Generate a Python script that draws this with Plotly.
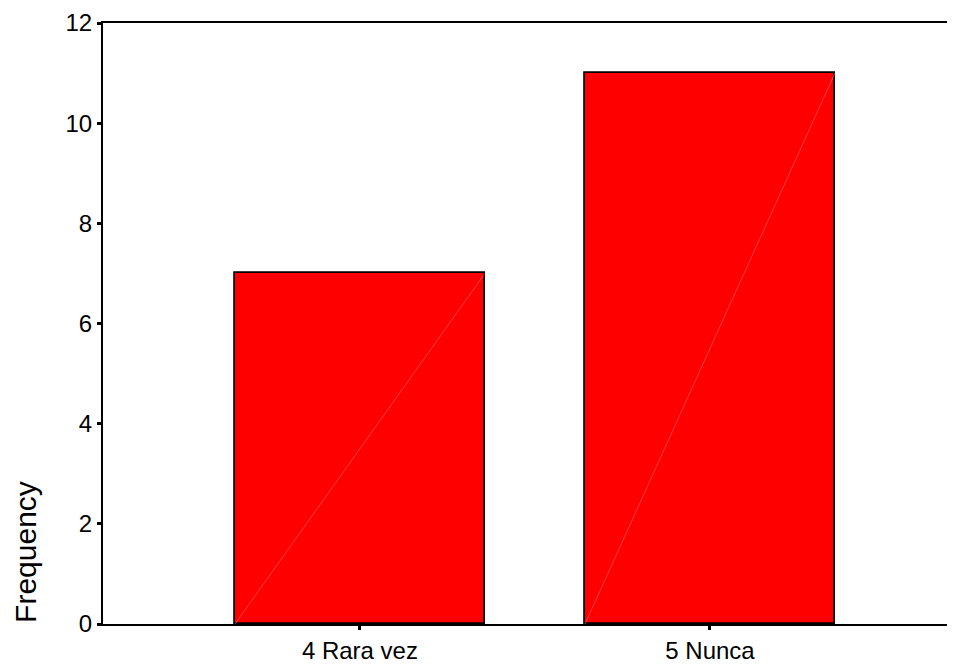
import plotly.graph_objects as go

categories = ["4 Rara vez", "5 Nunca"]
frequencies = [7, 11]
y_ticks = [0, 2, 4, 6, 8, 10, 12]

bar_width = 0.714
positions = list(range(len(categories)))

fig = go.Figure()
fig.add_trace(go.Bar(
    x=positions, y=frequencies, width=bar_width,
    marker=dict(color="#ff0000", line=dict(color="#000000", width=1.8)),
    showlegend=False, hoverinfo="x+y",
))
# faint diagonal inside each bar (SPSS rendering artifact)
for p, v in zip(positions, frequencies):
    fig.add_trace(go.Scatter(
        x=[p - bar_width / 2, p + bar_width / 2], y=[0, v],
        mode="lines", line=dict(color="#ff6a6a", width=0.6),
        showlegend=False, hoverinfo="skip",
    ))

# page body has an 8px default margin, so the figure is offset by 8px
fig.update_layout(
    width=947, height=656,
    margin=dict(l=95, r=0, t=15, b=40),
    paper_bgcolor="white", plot_bgcolor="white",
    font=dict(family="Liberation Sans, Arial, sans-serif", color="#000000", size=24),
    bargap=0,
)
fig.update_xaxes(
    range=[-0.734, 1.70], tickvals=positions, ticktext=categories,
    showline=True, linecolor="#000000", linewidth=2, mirror=True,
    ticks="outside", ticklen=4, tickwidth=3, tickcolor="#000000",
    showgrid=False, zeroline=False, tickfont=dict(size=24),
)
fig.update_yaxes(
    range=[0, 12], tickvals=y_ticks,
    showline=True, linecolor="#000000", linewidth=2,
    ticks="outside", ticklen=4, tickwidth=3, tickcolor="#000000",
    showgrid=False, zeroline=False, tickfont=dict(size=24),
)
fig.add_annotation(
    text="Frequency", xref="paper", yref="paper",
    x=(26 - 103) / 852, y=0.12, xanchor="center", yanchor="middle",
    textangle=-90, showarrow=False, font=dict(size=30),
)

fig.write_html("out.html")
